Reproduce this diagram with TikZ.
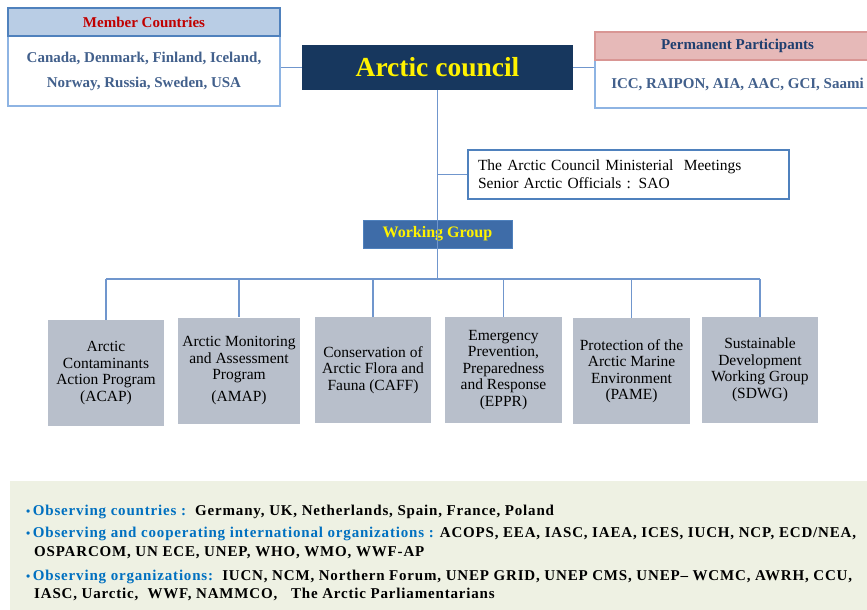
\documentclass[tikz,border=0pt]{standalone}
\usepackage{fontspec}
\setmainfont{Liberation Serif}
\newfontfamily\panelfont[LetterSpace=5.5]{Liberation Serif}
\usetikzlibrary{positioning}

\definecolor{lineblue}{RGB}{112,150,205}
\definecolor{memhead}{RGB}{185,205,229}
\definecolor{memframe}{RGB}{79,129,189}
\definecolor{lightframe}{RGB}{142,180,227}
\definecolor{memred}{RGB}{192,0,0}
\definecolor{slate}{RGB}{66,96,140}
\definecolor{navy}{RGB}{23,55,94}
\definecolor{pinkhead}{RGB}{230,185,184}
\definecolor{pinkframe}{RGB}{217,150,148}
\definecolor{darknavy}{RGB}{31,63,111}
\definecolor{wgblue}{RGB}{62,108,168}
\definecolor{wggray}{RGB}{184,191,203}
\definecolor{panelgreen}{RGB}{238,241,227}
\definecolor{obsblue}{RGB}{0,112,192}

\newcommand{\obsbullet}{{\color{obsblue}\fontsize{12}{12}\selectfont\textbullet}\,}

\begin{document}
\begin{tikzpicture}[x=1pt,y=1pt,yscale=-1,xscale=1,
  conn/.style={draw=lineblue, line width=1.5pt},
  headbox/.style={line width=1.5pt, minimum height=28pt, inner sep=0pt,
    font=\bfseries\fontsize{15}{17}\selectfont},
  listbox/.style={draw=lightframe, line width=2pt, fill=white, inner sep=0pt,
    align=center, text=slate},
  wgbox/.style={fill=wggray, minimum width=116pt, minimum height=106pt,
    inner sep=2pt, align=center, font=\fontsize{15.5}{16.5}\selectfont},
  obsline/.style={anchor=base west, inner sep=0pt,
    font=\panelfont\bfseries\fontsize{15}{18}\selectfont}]
\useasboundingbox (0,0) rectangle (867,610);

% Member countries
\node [listbox, minimum width=272pt, minimum height=70pt,
  font=\bfseries\fontsize{15}{25}\selectfont] (membody) at (144,71)
  {Canada, Denmark, Finland, Iceland,\\Norway, Russia, Sweden, USA};
\node [headbox, draw=memframe, fill=memhead, text=memred,
  minimum width=272pt] (memtitle) at (144,22) {Member Countries};

% Arctic council
\node [fill=navy, minimum width=271pt, minimum height=45pt, text=yellow,
  font=\bfseries\fontsize{27.5}{30}\selectfont] (council) at (437.5,67.5)
  {Arctic council};

% Permanent participants
\node [listbox, minimum width=285pt, minimum height=48pt,
  font=\bfseries\fontsize{15}{17}\selectfont] (partbody) at (737.5,84)
  {ICC, RAIPON, AIA, AAC, GCI, Saami};
\node [headbox, draw=pinkframe, fill=pinkhead, text=darknavy,
  minimum width=285pt] (parttitle) at (737.5,46) {Permanent Participants};

% Ministerial meetings
\node [draw=memframe, line width=2pt, fill=white, text width=301pt,
  inner sep=10pt, minimum height=47pt, align=left,
  font=\fontsize{15.5}{18}\selectfont] (sao) at (628.5,174.5)
  {The Arctic Council Ministerial\ \ Meetings\\Senior Arctic Officials : SAO};

% Working group
\node [fill=wgblue, draw=memframe, minimum width=149pt, minimum height=28pt,
  text=yellow, font=\bfseries\fontsize{16}{18}\selectfont] (wg) at (437.5,234)
  {Working Group};

% Working group boxes
\node [wgbox] (acap) at (106,373) {Arctic\\Contaminants\\Action Program\\(ACAP)};
\node [wgbox, minimum width=122pt] (amap) at (239,370.5)
  {Arctic Monitoring\\and Assessment\\Program\\[5pt](AMAP)};
\node [wgbox] (caff) at (373,370) {Conservation of\\Arctic Flora and\\Fauna (CAFF)};
\node [wgbox, minimum width=117pt] (eppr) at (503.5,370)
  {Emergency\\Prevention,\\Preparedness\\and Response\\(EPPR)};
\node [wgbox, minimum width=117pt] (pame) at (631.5,371)
  {Protection of the\\Arctic Marine\\Environment\\(PAME)};
\node [wgbox] (sdwg) at (760,370) {Sustainable\\Development\\Working Group\\(SDWG)};

% Connectors
\coordinate (bus) at (437.5,279);
\draw [conn] (council.west -| membody.east) -- (council.west);
\draw [conn] (council.east) -- (council.east -| partbody.west);
\draw [conn] (council.south) -- (bus);
\draw [conn] (council.south |- sao.west) -- (sao.west);
\draw [conn] (acap.north |- bus) -- (sdwg.north |- bus);
\foreach \wgname in {acap,amap,caff,eppr,pame,sdwg}
  \draw [conn] (\wgname.north |- bus) -- (\wgname.north);

% Observers
\node [fill=panelgreen, minimum width=857pt, minimum height=129pt,
  inner sep=0pt, anchor=north west] (panel) at (10,481) {};
\node [obsline] (obsa) at (26,515) {\obsbullet
  \textcolor{obsblue}{Observing countries :}\ \ Germany, UK, Netherlands, Spain, France, Poland};
\node [obsline] (obsb) at (26,537) {\obsbullet
  \textcolor{obsblue}{Observing and cooperating international organizations :}
  ACOPS, EEA, IASC, IAEA, ICES, IUCH, NCP, ECD/NEA,};
\node [obsline] (obsc) at (34,556) {OSPARCOM, UN ECE, UNEP, WHO, WMO, WWF-AP};
\node [obsline] (obsd) at (26,580) {\obsbullet
  \textcolor{obsblue}{Observing organizations:}\ \ IUCN, NCM, Northern Forum,
  UNEP GRID, UNEP CMS, UNEP\textendash{} WCMC, AWRH, CCU,};
\node [obsline] (obse) at (34,598) {IASC, Uarctic,\ \ WWF, NAMMCO,\ \ \ The Arctic Parliamentarians};
\end{tikzpicture}
\end{document}
